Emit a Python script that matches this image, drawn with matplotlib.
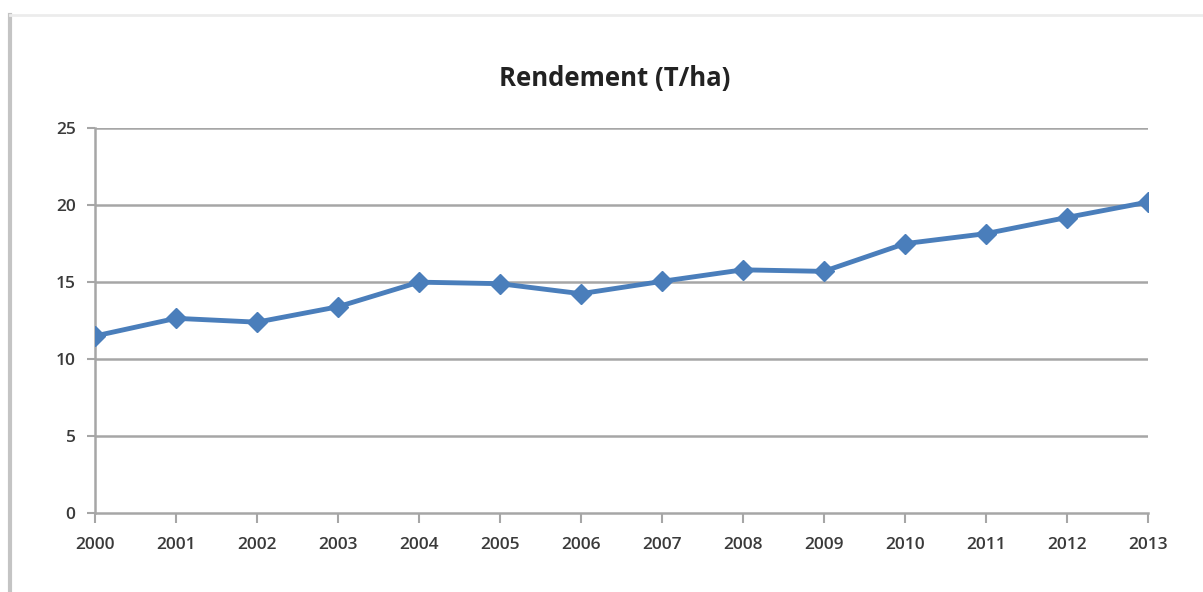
import matplotlib
matplotlib.use('Agg')
import matplotlib.pyplot as plt
from matplotlib.lines import Line2D

years = [2000, 2001, 2002, 2003, 2004, 2005, 2006, 2007, 2008, 2009, 2010, 2011, 2012, 2013]
rendement = [11.5, 12.65, 12.4, 13.4, 15.0, 14.9, 14.25, 15.05, 15.8, 15.7, 17.5, 18.15, 19.2, 20.2]
y_ticks = [0, 5, 10, 15, 20, 25]

plt.rcParams['font.family'] = ['Open Sans', 'DejaVu Sans']

fig = plt.figure(figsize=(12.03, 5.92), dpi=100)
ax = fig.add_axes([0.079, 0.1334, 0.875, 0.650])

# chart area outline: left edge clear, top edge faint
fig.lines.append(Line2D([10 / 1203, 10 / 1203], [0, 1 - 15 / 592], transform=fig.transFigure,
                        color='#c4c4c4', linewidth=3))
fig.lines.append(Line2D([10 / 1203, 1], [1 - 15 / 592, 1 - 15 / 592], transform=fig.transFigure,
                        color='#ececec', linewidth=2))

for t in y_ticks[1:]:
    ax.axhline(t, color='#a6a6a6', linewidth=1.8, zorder=1)

ax.plot(years, rendement, color='#4a7ebb', linewidth=3.5, marker='D',
        markersize=10, markerfacecolor='#4a7ebb', markeredgecolor='#4a7ebb', zorder=3)

ax.set_xlim(years[0], years[-1])
ax.set_ylim(0, 25)
ax.set_xticks(years)
ax.set_yticks(y_ticks)
ax.set_xticklabels([str(y) for y in years])

for s in ['top', 'right']:
    ax.spines[s].set_visible(False)
ax.spines['left'].set_color('#a6a6a6')
ax.spines['bottom'].set_color('#a6a6a6')
ax.spines['left'].set_linewidth(1.8)
ax.spines['bottom'].set_linewidth(1.8)

ax.tick_params(axis='x', direction='out', length=7, width=1.5, color='#a6a6a6',
               labelsize=12.5, labelcolor='#3a3a3a', pad=10)
ax.tick_params(axis='y', direction='out', length=6, width=1.5, color='#a6a6a6',
               labelsize=12.5, labelcolor='#3a3a3a', pad=8)
for lbl in ax.get_xticklabels() + ax.get_yticklabels():
    lbl.set_fontweight('semibold')

fig.text(0.511, 0.868, 'Rendement (T/ha)', ha='center', va='center',
         fontsize=18.5, fontweight='bold', color='#222222')

fig.savefig('out.png', dpi=100)
